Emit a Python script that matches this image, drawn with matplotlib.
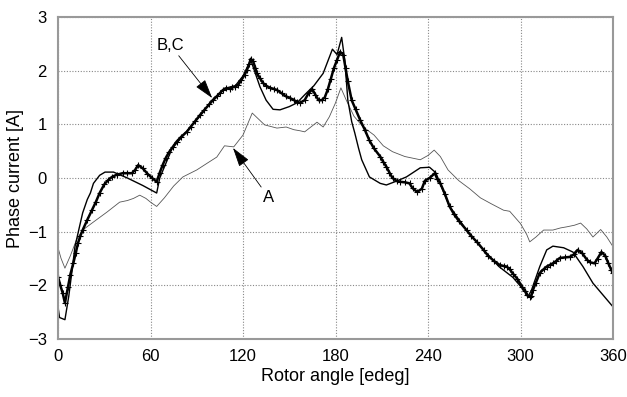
import matplotlib
matplotlib.use('Agg')
import matplotlib.pyplot as plt
import numpy as np

plt.rcParams['font.family'] = ['Liberation Sans', 'DejaVu Sans']

# curve A (thin gray)
a_x = [0, 2, 4.5, 8, 12, 16, 23, 32, 40, 45, 49, 53, 57, 60, 64, 69, 75, 81, 90, 97,
       103, 108, 114, 120, 126, 130, 134, 142, 148, 153, 157, 160, 164, 168, 172, 176,
       180, 183.5, 187, 192, 198, 205, 211, 217, 225, 235, 240, 244, 248, 253, 260,
       267, 274, 281, 289, 293, 300, 304, 306, 310, 315, 321, 326, 330, 335, 339, 343,
       347, 352, 356, 360]
a_y = [-1.3, -1.5, -1.68, -1.45, -1.15, -0.97, -0.82, -0.63, -0.45, -0.42, -0.38, -0.32,
       -0.38, -0.45, -0.53, -0.37, -0.15, 0.02, 0.15, 0.28, 0.39, 0.6, 0.58, 0.8, 1.21,
       1.1, 0.99, 0.93, 0.95, 0.9, 0.88, 0.86, 0.95, 1.04, 0.95, 1.14, 1.4, 1.68, 1.45,
       1.15, 0.95, 0.8, 0.6, 0.49, 0.4, 0.34, 0.42, 0.52, 0.4, 0.15, -0.05, -0.2, -0.37,
       -0.48, -0.6, -0.62, -0.85, -1.05, -1.19, -1.1, -0.97, -0.97, -0.93, -0.91, -0.88,
       -0.84, -0.95, -1.1, -0.96, -1.1, -1.28]

# curve B (thin black)
b_x = [0, 1, 4.5, 7, 9, 11, 14, 16, 19, 21, 23, 27, 30.5, 36, 45, 55, 64, 66, 74, 83,
       92, 100, 108, 115, 120, 125, 131, 135, 139.5, 144, 150, 155, 160, 166, 172, 178,
       181, 184, 186, 188, 190.5, 192.5, 195, 197, 202, 209, 213, 218.5, 226, 235, 241,
       245, 250, 254, 265, 276, 286, 295, 301, 305, 307, 312.5, 317, 321, 328, 334,
       340.5, 347, 353.5, 360]
b_y = [-2.4, -2.6, -2.64, -2.2, -1.75, -1.28, -0.9, -0.65, -0.4, -0.28, -0.1, 0.05,
       0.11, 0.11, 0.0, -0.14, -0.28, 0.0, 0.55, 0.85, 1.15, 1.45, 1.67, 1.72, 1.9, 2.2,
       1.7, 1.45, 1.28, 1.27, 1.33, 1.4, 1.55, 1.72, 1.95, 2.4, 2.3, 2.62, 2.2, 1.45,
       1.05, 0.84, 0.55, 0.34, 0.02, -0.1, -0.13, -0.07, 0.02, 0.19, 0.2, 0.1, -0.25,
       -0.53, -0.97, -1.34, -1.65, -1.85, -2.05, -2.2, -2.1, -1.65, -1.34, -1.27, -1.3,
       -1.38, -1.65, -1.96, -2.18, -2.4]

# curve C (thick black with markers)
c_x = [0, 1.5, 3, 4.5, 6.5, 8, 10, 11.5, 13, 14.5, 16, 19, 22, 24.5, 27, 30, 32.5, 35,
       38, 42, 45, 48, 50, 52, 55, 58, 61, 64, 66, 68, 70, 72, 74.5, 77, 80, 83.5, 86,
       89, 92, 95, 98, 100.5, 103, 105, 107, 109, 111.5, 113, 115, 117, 119, 121,
       122.5, 124, 125, 126.5, 128, 129, 131, 133, 135, 137.5, 140, 142, 145, 148,
       150.5, 153, 155, 157, 160, 162.5, 165, 167, 169, 171, 173, 175, 177, 179, 181,
       183, 185, 186.5, 188, 190.5, 193, 196, 199, 202, 205, 209, 211, 213, 215, 217,
       220, 222, 225, 228, 230, 233, 236, 238, 241, 244.5, 246, 248, 251, 254, 257,
       260, 265, 268, 272, 276, 279, 283, 286.5, 289, 291, 293, 295, 298, 301, 303,
       304, 306, 307, 308, 310, 312.5, 315, 317, 319, 321, 323, 325.5, 329, 332, 335,
       337, 340, 343, 345, 348, 350, 352.5, 355, 357, 359, 360]
c_y = [-1.84, -2.0, -2.14, -2.33, -2.03, -1.8, -1.58, -1.4, -1.21, -1.08, -0.97, -0.78,
       -0.6, -0.45, -0.28, -0.12, -0.04, 0.02, 0.06, 0.09, 0.09, 0.09, 0.15, 0.24, 0.18,
       0.08, 0.0, -0.07, 0.1, 0.25, 0.38, 0.48, 0.58, 0.68, 0.77, 0.86, 0.95, 1.06,
       1.17, 1.27, 1.37, 1.45, 1.52, 1.58, 1.64, 1.67, 1.66, 1.69, 1.7, 1.74, 1.83,
       1.92, 2.01, 2.12, 2.22, 2.18, 2.05, 1.95, 1.86, 1.77, 1.72, 1.68, 1.66, 1.64,
       1.58, 1.52, 1.49, 1.45, 1.42, 1.4, 1.45, 1.58, 1.65, 1.55, 1.45, 1.45, 1.5, 1.65,
       1.85, 2.05, 2.2, 2.35, 2.3, 2.05, 1.8, 1.45, 1.28, 1.08, 0.9, 0.7, 0.55, 0.4,
       0.3, 0.21, 0.1, 0.0, -0.06, -0.07, -0.08, -0.1, -0.19, -0.26, -0.2, -0.05, 0.0,
       0.09, -0.02, -0.1, -0.3, -0.53, -0.68, -0.8, -0.97, -1.08, -1.2, -1.34, -1.45,
       -1.55, -1.62, -1.64, -1.65, -1.7, -1.78, -1.88, -2.03, -2.1, -2.18, -2.21, -2.2,
       -2.09, -1.95, -1.77, -1.7, -1.65, -1.62, -1.59, -1.55, -1.49, -1.48, -1.47,
       -1.42, -1.34, -1.4, -1.52, -1.57, -1.59, -1.5, -1.38, -1.45, -1.59, -1.72, -1.77]

fig = plt.figure(figsize=(6.27, 3.97), dpi=100)
ax = fig.add_axes([58 / 627, 1 - 339 / 397, 555 / 627, 322 / 397])

ax.plot(a_x, a_y, color='#555555', lw=0.6)
ax.plot(b_x, b_y, color='black', lw=1.0)
ax.plot(c_x, c_y, color='black', lw=1.8, marker='+', ms=4, mew=0.8)

ax.set_xlim(0, 360)
ax.set_ylim(-3, 3)
ax.set_xticks(np.arange(0, 361, 60))
ax.set_yticks(np.arange(-3, 4, 1))
ax.grid(True, color='#888888', ls=(0, (1, 1.5)), lw=0.8)
ax.tick_params(length=0, labelsize=12, colors='black')
ax.tick_params(axis='x', pad=7)
ax.tick_params(axis='y', pad=8)
for s in ax.spines.values():
    s.set_color('#999999')
    s.set_linewidth(1.5)

ax.set_xlabel('Rotor angle [edeg]', fontsize=13, labelpad=3)
ax.set_ylabel('Phase current [A]', fontsize=13, labelpad=3)

arrow = dict(arrowstyle='-|>,head_length=1.0,head_width=0.3', color='black',
             lw=0.6, shrinkA=0, shrinkB=0)
ax.annotate('B,C', xy=(100, 1.49), xytext=(82, 2.33), fontsize=12,
            ha='right', va='bottom', arrowprops=arrow)
ax.annotate('A', xy=(113.5, 0.56), xytext=(133, -0.22), fontsize=12,
            ha='left', va='top', arrowprops=arrow)

fig.savefig('out.png', dpi=100)
